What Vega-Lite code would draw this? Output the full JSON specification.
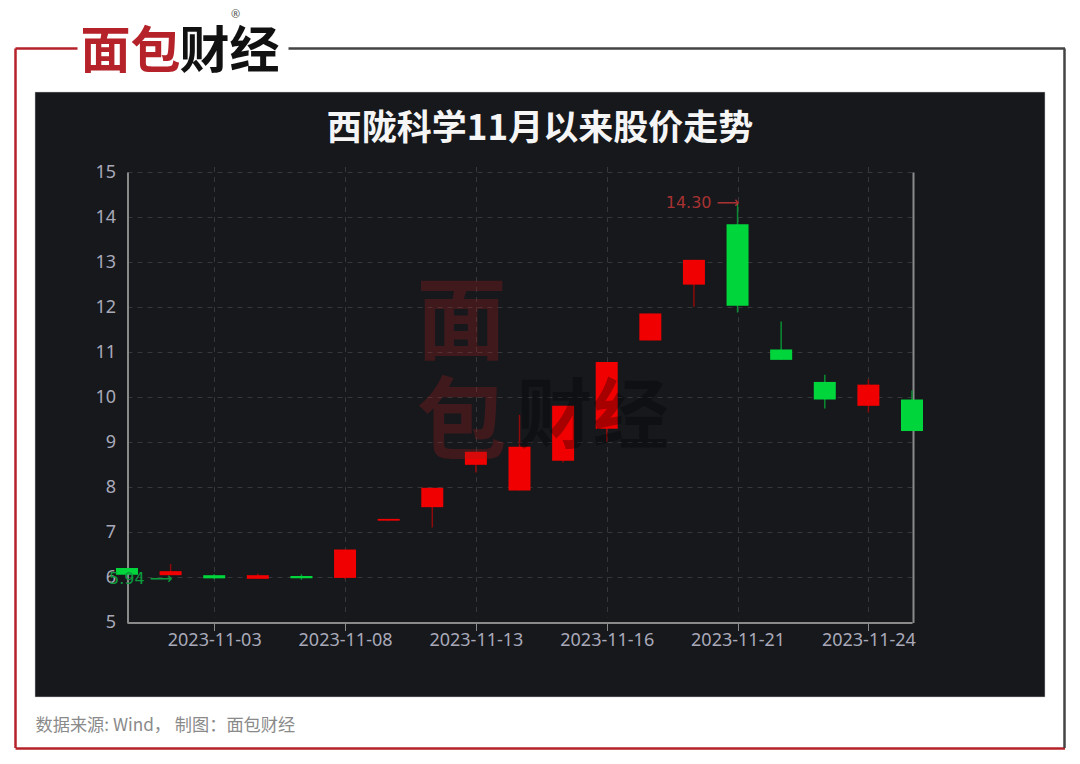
{"$schema":"https://vega.github.io/schema/vega-lite/v6.json","width":1010,"height":605,"autosize":{"type":"none"},"padding":{"left":35,"top":92,"right":35,"bottom":67},"background":"#ffffff","view":{"fill":"#16181c","stroke":"#c8c8c8","strokeWidth":0.5},
"title":{"text":"西陇科学11月以来股价走势","anchor":"middle","frame":"group","baseline":"middle","dy":160,"color":"#f5f5f5","font":"Noto Sans CJK SC","fontWeight":"bold","fontSize":35},
"datasets":{"page":[{"edge":0},{"edge":1}],
"candles":[
{"date":"2023-11-01","open":6.21,"close":6.06,"high":6.21,"low":6.06,"dir":"down"},
{"date":"2023-11-02","open":6.05,"close":6.14,"high":6.3,"low":6.05,"dir":"up"},
{"date":"2023-11-03","open":6.05,"close":5.98,"high":6.07,"low":5.96,"dir":"down"},
{"date":"2023-11-06","open":5.97,"close":6.05,"high":6.08,"low":5.97,"dir":"up"},
{"date":"2023-11-07","open":6.03,"close":5.98,"high":6.07,"low":5.95,"dir":"down"},
{"date":"2023-11-08","open":5.99,"close":6.62,"high":6.62,"low":5.96,"dir":"up"},
{"date":"2023-11-09","open":7.26,"close":7.3,"high":7.3,"low":7.26,"dir":"up"},
{"date":"2023-11-10","open":7.56,"close":7.99,"high":7.99,"low":7.11,"dir":"up"},
{"date":"2023-11-13","open":8.5,"close":8.79,"high":8.79,"low":8.33,"dir":"up"},
{"date":"2023-11-14","open":7.93,"close":8.9,"high":9.61,"low":7.93,"dir":"up"},
{"date":"2023-11-15","open":8.59,"close":9.81,"high":9.81,"low":8.55,"dir":"up"},
{"date":"2023-11-16","open":9.3,"close":10.78,"high":10.78,"low":9.01,"dir":"up"},
{"date":"2023-11-17","open":11.26,"close":11.86,"high":11.86,"low":11.26,"dir":"up"},
{"date":"2023-11-20","open":12.5,"close":13.05,"high":13.05,"low":12.01,"dir":"up"},
{"date":"2023-11-21","open":13.84,"close":12.03,"high":14.3,"low":11.88,"dir":"down"},
{"date":"2023-11-22","open":11.06,"close":10.83,"high":11.68,"low":10.83,"dir":"down"},
{"date":"2023-11-23","open":10.34,"close":9.95,"high":10.5,"low":9.75,"dir":"down"},
{"date":"2023-11-24","open":9.81,"close":10.28,"high":10.4,"low":9.66,"dir":"up"},
{"date":"2023-11-27","open":9.95,"close":9.25,"high":10.15,"low":9.25,"dir":"down"}],
"extremes":[{"date":"2023-11-02","value":5.94,"label":"5.94 ⟶","dir":"down"},{"date":"2023-11-21","value":14.3,"label":"14.30 ⟶","dir":"up"}]},
"layer":[
{"encoding":{"x":{"field":"date","type":"ordinal","title":null,"sort":null,"scale":{"type":"point","padding":0,"range":[92,877],"domain":["2023-11-01","2023-11-02","2023-11-03","2023-11-06","2023-11-07","2023-11-08","2023-11-09","2023-11-10","2023-11-13","2023-11-14","2023-11-15","2023-11-16","2023-11-17","2023-11-20","2023-11-21","2023-11-22","2023-11-23","2023-11-24","2023-11-27"]},"axis":{"orient":"bottom","offset":-74.5,"values":["2023-11-03","2023-11-08","2023-11-13","2023-11-16","2023-11-21","2023-11-24"],"labelAngle":0,"labelFont":"Noto Sans","labelFontSize":18,"labelColor":"#a9a9b9","labelPadding":1,"tickColor":"#8a8a8a","tickSize":8,"tickWidth":1,"domainColor":"#8a8a8a","domainWidth":2,"grid":true,"gridColor":"#35373b","gridDash":[5,5],"gridWidth":1}}},
"layer":[
{"data":{"name":"candles"},"mark":{"type":"rule","strokeWidth":1.5},"encoding":{"y":{"field":"low","type":"quantitative","title":null,"scale":{"domain":[5,15],"nice":false,"zero":false,"range":[530.5,80]},"axis":{"orient":"left","offset":-92.5,"values":[5,6,7,8,9,10,11,12,13,14,15],"format":"d","labelFont":"Noto Sans","labelFontSize":18,"labelColor":"#a9a9b9","labelPadding":12,"ticks":false,"domainColor":"#8a8a8a","domainWidth":2,"grid":true,"gridColor":"#35373b","gridDash":[5,5],"gridWidth":1}},"y2":{"field":"high"},"color":{"field":"dir","type":"nominal","legend":null,"scale":{"domain":["up","down"],"range":["#8f0a0a","#0a8c32"]}}}},
{"data":{"name":"candles"},"mark":{"type":"bar","size":22},"encoding":{"y":{"field":"open","type":"quantitative"},"y2":{"field":"close"},"color":{"field":"dir","type":"nominal","legend":null,"scale":{"domain":["up","down"],"range":["#f00000","#00d63c"]}}}},
{"data":{"name":"extremes"},"mark":{"type":"text","align":"right","baseline":"middle","dx":2,"dy":-1,"font":"DejaVu Sans","fontSize":16},"encoding":{"y":{"field":"value","type":"quantitative"},"text":{"field":"label"},"color":{"field":"dir","type":"nominal","legend":null,"scale":{"domain":["up","down"],"range":["#a83232","#0c9a3c"]}}}}
],"resolve":{"scale":{"color":"independent"}}},
{"data":{"name":"page"},"mark":{"type":"point","opacity":0},"encoding":{
"x":{"field":"edge","type":"quantitative","scale":{"domain":[0,1],"range":[-20,1029.5]},"axis":{"orient":"bottom","offset":51,"ticks":false,"labels":false,"grid":false,"domainColor":"#b5222a","domainWidth":2.5,"title":"数据来源: Wind， 制图：面包财经","titleFont":"Noto Sans CJK SC","titleFontWeight":"normal","titleFontSize":17.2,"titleColor":"#8a8a8a","titleAlign":"left","titleBaseline":"middle","titleX":0,"titleY":-23}},
"y":{"field":"edge","type":"quantitative","scale":{"domain":[0,1],"range":[655.5,-44]},"axis":{"orient":"left","offset":20,"ticks":false,"labels":false,"grid":false,"domainColor":"#b5222a","domainWidth":2.5,"title":null}}}},
{"data":{"name":"page"},"mark":{"type":"point","opacity":0},"encoding":{
"x":{"field":"edge","type":"quantitative","scale":{"domain":[0,1],"range":[253,1029.5]},"axis":{"orient":"top","offset":44,"ticks":false,"labels":false,"grid":false,"domainColor":"#444444","domainWidth":2.5,"title":"财经","titleFont":"Noto Sans CJK SC","titleFontWeight":"bold","titleFontSize":50,"titleColor":"#111111","titleAlign":"center","titleBaseline":"middle","titleX":194,"titleY":4}},
"y":{"field":"edge","type":"quantitative","scale":{"domain":[0,1],"range":[655.5,-44]},"axis":{"orient":"right","offset":19,"ticks":false,"labels":false,"grid":false,"domainColor":"#444444","domainWidth":2.5,"title":null}}}},
{"data":{"name":"page"},"mark":{"type":"point","opacity":0},"encoding":{
"x":{"field":"edge","type":"quantitative","scale":{"domain":[0,1],"range":[-20,42]},"axis":{"orient":"top","offset":44,"ticks":false,"labels":false,"grid":false,"domainColor":"#b5222a","domainWidth":2.5,"title":"面包","titleFont":"Noto Sans CJK SC","titleFontWeight":"bold","titleFontSize":50,"titleColor":"#b5222a","titleAlign":"center","titleBaseline":"middle","titleX":95,"titleY":4}},
"y":{"field":"edge","type":"quantitative","scale":{"domain":[0,1],"range":[530.5,80]},"axis":{"orient":"right","offset":-132,"ticks":false,"labels":false,"grid":false,"domainColor":"#8a8a8a","domainWidth":2,"title":null}}}},
{"data":{"name":"page"},"mark":{"type":"point","opacity":0},"encoding":{
"x":{"field":"edge","type":"quantitative","scale":{"domain":[0,1],"range":[0,1010]},"axis":{"orient":"top","domain":false,"ticks":false,"labels":false,"grid":false,"zindex":1,"title":"面","titleFont":"Noto Sans CJK SC","titleFontWeight":"bold","titleFontSize":90,"titleColor":"#a01e1e","titleOpacity":0.3,"titleAlign":"center","titleBaseline":"middle","titleX":426,"titleY":232}}}},
{"data":{"name":"page"},"mark":{"type":"point","opacity":0},"encoding":{
"x":{"field":"edge","type":"quantitative","scale":{"domain":[0,1],"range":[0,1010]},"axis":{"orient":"top","domain":false,"ticks":false,"labels":false,"grid":false,"zindex":1,"title":"包","titleFont":"Noto Sans CJK SC","titleFontWeight":"bold","titleFontSize":90,"titleColor":"#a01e1e","titleOpacity":0.3,"titleAlign":"center","titleBaseline":"middle","titleX":426,"titleY":332}}}},
{"data":{"name":"page"},"mark":{"type":"point","opacity":0},"encoding":{
"x":{"field":"edge","type":"quantitative","scale":{"domain":[0,1],"range":[0,1010]},"axis":{"orient":"top","domain":false,"ticks":false,"labels":false,"grid":false,"zindex":1,"title":"财经","titleFont":"Noto Sans CJK SC","titleFontWeight":"bold","titleFontSize":76,"titleColor":"#000000","titleOpacity":0.3,"titleAlign":"center","titleBaseline":"middle","titleX":557,"titleY":326}}}},
{"data":{"name":"page"},"mark":{"type":"point","opacity":0},"encoding":{
"x":{"field":"edge","type":"quantitative","scale":{"domain":[0,1],"range":[0,1010]},"axis":{"orient":"top","domain":false,"ticks":false,"labels":false,"grid":false,"title":"®","titleFont":"Noto Sans","titleFontWeight":"normal","titleFontSize":11,"titleColor":"#555555","titleAlign":"center","titleBaseline":"middle","titleX":200,"titleY":-78}}}}
],
"resolve":{"scale":{"x":"independent","y":"independent"},"axis":{"x":"independent","y":"independent"}}}
